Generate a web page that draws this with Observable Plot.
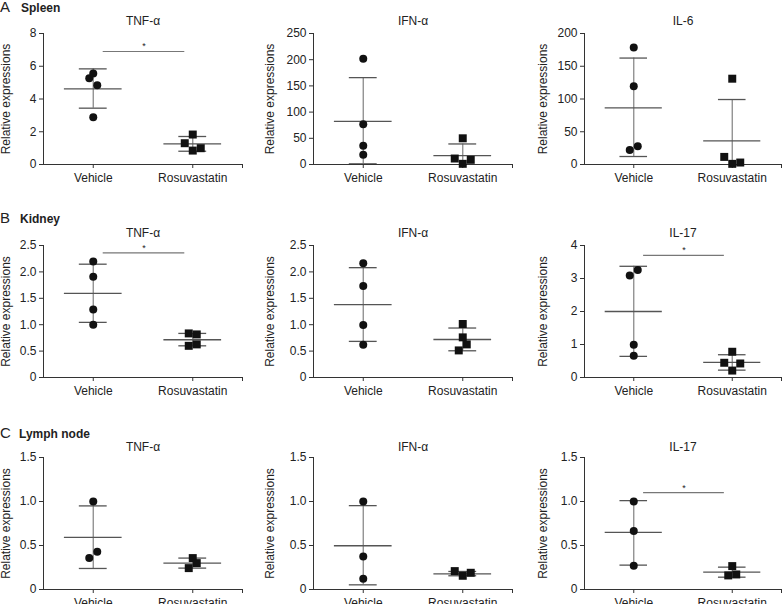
<!DOCTYPE html>
<html>
<head>
<meta charset="utf-8">
<script src="https://cdn.jsdelivr.net/npm/d3@7"></script>
<script src="https://cdn.jsdelivr.net/npm/@observablehq/plot@0.6"></script>
<style>
  html, body { margin: 0; padding: 0; background: #fff; overflow: hidden; }
  #fig { position: relative; width: 783px; height: 604px; overflow: hidden; background: #fff;
         font-family: "Liberation Sans", Arial, sans-serif; color: #222; }
  .cell { position: absolute; }
  #overlay { position: absolute; left: 0; top: 0; pointer-events: none; }
</style>
</head>
<body>
<div id="fig"></div>
<script>
// ---------------- data ----------------
const groups = ["Vehicle", "Rosuvastatin"];
const rowLetters = ["A", "B", "C"];
const tissues = ["Spleen", "Kidney", "Lymph node"];
const panelTitles = ["TNF-α", "IFN-α", "IL-6", "TNF-α", "IFN-α", "IL-17", "TNF-α", "IFN-α", "IL-17"];
const yLabel = "Relative expressions";
const yMaxes = [8, 250, 200, 2.5, 2.5, 4, 1.5, 1.5, 1.5];
const yTickSets = [
  [0, 2, 4, 6, 8],
  [0, 50, 100, 150, 200, 250],
  [0, 50, 100, 150, 200],
  [0, 0.5, 1, 1.5, 2, 2.5],
  [0, 0.5, 1, 1.5, 2, 2.5],
  [0, 1, 2, 3, 4],
  [0, 0.5, 1, 1.5],
  [0, 0.5, 1, 1.5],
  [0, 0.5, 1, 1.5]
];
const vehiclePoints = [
  [5.27, 5.56, 4.84, 2.89],
  [202, 76.6, 36, 18.4],
  [178.7, 119.5, 22.3, 27.8],
  [2.196, 1.91, 1.29, 1.0],
  [2.165, 1.734, 0.994, 0.62],
  [3.09, 3.26, 0.99, 0.66],
  [0.999, 0.357, 0.429],
  [0.999, 0.376, 0.122],
  [0.999, 0.665, 0.27]
];
const rosuvastatinPoints = [
  [1.83, 1.30, 0.85, 0.995],
  [50, 11.4, 1.3, 8.9],
  [131, 11.6, 1, 3],
  [0.835, 0.816, 0.60, 0.627],
  [1.013, 0.513, 0.76, 0.627],
  [0.78, 0.446, 0.21, 0.425],
  [0.243, 0.357, 0.30],
  [0.209, 0.156, 0.19],
  [0.266, 0.16, 0.171]
];
const vehicleMean = [4.62, 82.3, 86.6, 1.595, 1.38, 2.0, 0.592, 0.497, 0.65];
const vehicleLow  = [3.44, 1.3, 12.2, 1.044, 0.684, 0.64, 0.239, 0.053, 0.277];
const vehicleHigh = [5.84, 165.8, 162.5, 2.146, 2.08, 3.37, 0.95, 0.953, 1.01];
const rosuvastatinMean = [1.26, 17.1, 36, 0.715, 0.72, 0.456, 0.30, 0.178, 0.197];
const rosuvastatinLow  = [0.81, -5, -27, 0.60, 0.506, 0.223, 0.243, 0.156, 0.14];
const rosuvastatinHigh = [1.71, 39.2, 99.2, 0.835, 0.937, 0.69, 0.357, 0.205, 0.254];
const sigLevels = [6.9, null, null, 2.36, null, 3.70, null, null, 1.10];

// ---------------- layout ----------------
const colLeft = [0, 261, 522];
const colMarginLeft = [43, 52, 62];
const colMarginRight = [19, 10, 2];
const colLabelDx = [-37, -43, -41];
const rowTop = [0, 200, 400];
const rowHeight = [200, 200, 230];
const rowMarginTop = [33, 45, 57];
const rowMarginBottom = [36, 23, 41];
const rowTitleDy = [-17, -17, -15];
const cellWidth = 261;

const FONT = "Liberation Sans, Arial, Helvetica, sans-serif";
const ink = "#222";
const axisInk = "#333";
const meanInk = "#555";
const barInk = "#8a8a8a";

// GraphPad-like horizontal spreading of nearby points (computed, in pixels)
function spread(values, pxPerUnit) {
  const order = d3.range(values.length).sort((a, b) => values[b] - values[a]);
  const clusters = [];
  let cur = [order[0]];
  for (let k = 1; k < order.length; k++) {
    const gap = (values[order[k - 1]] - values[order[k]]) * pxPerUnit;
    if (gap < 8) cur.push(order[k]); else { clusters.push(cur); cur = [order[k]]; }
  }
  clusters.push(cur);
  const off = values.map(() => 0);
  for (const c of clusters) {
    const n = c.length;
    if (n < 2) continue;
    const span = (values[c[0]] - values[c[n - 1]]) * pxPerUnit;
    const step = (n >= 3 && span > 9) ? 4 : 8;
    c.slice().sort((a, b) => a - b).forEach((m, i) => { off[m] = (i - (n - 1) / 2) * step; });
  }
  return off;
}

const fig = document.getElementById("fig");

for (let p = 0; p < 9; p++) {
  const row = Math.floor(p / 3), col = p % 3;
  const ml = colMarginLeft[col], mr = colMarginRight[col];
  const mt = rowMarginTop[row], mb = rowMarginBottom[row];
  const H = rowHeight[row];
  const innerW = cellWidth - ml - mr;
  const innerH = H - mt - mb;
  const yMax = yMaxes[p];
  const pxPerY = innerH / yMax;
  const pxPerX = innerW / 2;

  const pts = [];
  [vehiclePoints[p], rosuvastatinPoints[p]].forEach((vals, g) => {
    const off = spread(vals, pxPerY);
    vals.forEach((v, i) => pts.push({group: g, value: v, x: g + off[i] / pxPerX}));
  });
  const stats = [
    {group: 0, mean: vehicleMean[p], low: vehicleLow[p], high: vehicleHigh[p]},
    {group: 1, mean: rosuvastatinMean[p], low: rosuvastatinLow[p], high: rosuvastatinHigh[p]}
  ];
  const ticks = yTickSets[p];
  const allInt = ticks.every(Number.isInteger);
  const fmt = d => (d === 0 || allInt) ? String(d) : d.toFixed(1);

  const marks = [
    // axis lines
    Plot.ruleX([-0.5], {y1: 0, y2: yMax, stroke: axisInk, strokeWidth: 1}),
    Plot.ruleY([0], {x1: -0.5, x2: 1.5, stroke: axisInk, strokeWidth: 1}),
    Plot.axisY({ticks, tickFormat: fmt, tickSize: 4, tickPadding: 3, fontSize: 12, label: null, color: ink, stroke: axisInk}),
    Plot.axisX({ticks: [0, 1, 1.5], tickFormat: d => d === 0 ? groups[0] : d === 1 ? groups[1] : "",
                tickSize: 4, tickPadding: 5, fontSize: 12, label: null, color: ink, stroke: axisInk}),
    // error bars (mean ± SD)
    Plot.ruleX(stats, {x: "group", y1: "low", y2: "high", stroke: barInk, strokeWidth: 1.3, clip: true}),
    Plot.ruleY(stats, {y: "low", x1: d => d.group - 0.14, x2: d => d.group + 0.14, stroke: meanInk, strokeWidth: 1.3, clip: true}),
    Plot.ruleY(stats, {y: "high", x1: d => d.group - 0.14, x2: d => d.group + 0.14, stroke: meanInk, strokeWidth: 1.3, clip: true}),
    Plot.ruleY(stats, {y: "mean", x1: d => d.group - 0.29, x2: d => d.group + 0.29, stroke: meanInk, strokeWidth: 1.3}),
    // points
    Plot.dot(pts.filter(d => d.group === 0), {x: "x", y: "value", r: 4, fill: "#111", stroke: "none", symbol: "circle"}),
    Plot.dot(pts.filter(d => d.group === 1), {x: "x", y: "value", r: 4.5, fill: "#111", stroke: "none", symbol: "square"}),
    // title & y label
    Plot.text([panelTitles[p]], {frameAnchor: "top", dy: rowTitleDy[row], fontSize: 12, fill: ink}),
    Plot.text([yLabel], {frameAnchor: "left", textAnchor: "middle", dx: colLabelDx[col], rotate: -90, fontSize: 12, fill: ink})
  ];
  if (sigLevels[p] != null) {
    marks.push(Plot.ruleY([sigLevels[p]], {x1: 0.1, x2: 0.92, stroke: "#777", strokeWidth: 1.2}));
    marks.push(Plot.text(["*"], {x: 0.51, y: sigLevels[p], dy: -5, fontSize: 9, fill: ink}));
  }

  const chart = Plot.plot({
    width: cellWidth,
    height: H,
    marginLeft: ml, marginRight: mr, marginTop: mt, marginBottom: mb,
    x: {type: "linear", domain: [-0.5, 1.5]},
    y: {domain: [0, yMax]},
    style: {fontFamily: FONT, fontSize: "12px", color: ink, background: "transparent", overflow: "visible"},
    marks
  });
  const cell = document.createElement("div");
  cell.className = "cell";
  cell.style.left = colLeft[col] + "px";
  cell.style.top = rowTop[row] + "px";
  cell.appendChild(chart);
  fig.appendChild(cell);
}

// row labels (A Spleen, B Kidney, C Lymph node)
const ns = "http://www.w3.org/2000/svg";
const ov = document.createElementNS(ns, "svg");
ov.setAttribute("id", "overlay");
ov.setAttribute("width", 783);
ov.setAttribute("height", 604);
const rowBaseline = [12, 223, 438];
const nameX = [21, 20, 19];
rowLetters.forEach((L, r) => {
  const t1 = document.createElementNS(ns, "text");
  t1.setAttribute("x", 0); t1.setAttribute("y", rowBaseline[r]);
  t1.setAttribute("font-family", FONT); t1.setAttribute("font-size", 15); t1.setAttribute("fill", ink);
  t1.textContent = L;
  const t2 = document.createElementNS(ns, "text");
  t2.setAttribute("x", nameX[r]); t2.setAttribute("y", rowBaseline[r]);
  t2.setAttribute("font-family", FONT); t2.setAttribute("font-size", 12); t2.setAttribute("font-weight", "bold"); t2.setAttribute("fill", ink);
  t2.textContent = tissues[r];
  ov.appendChild(t1); ov.appendChild(t2);
});
fig.appendChild(ov);
</script>
</body>
</html>
